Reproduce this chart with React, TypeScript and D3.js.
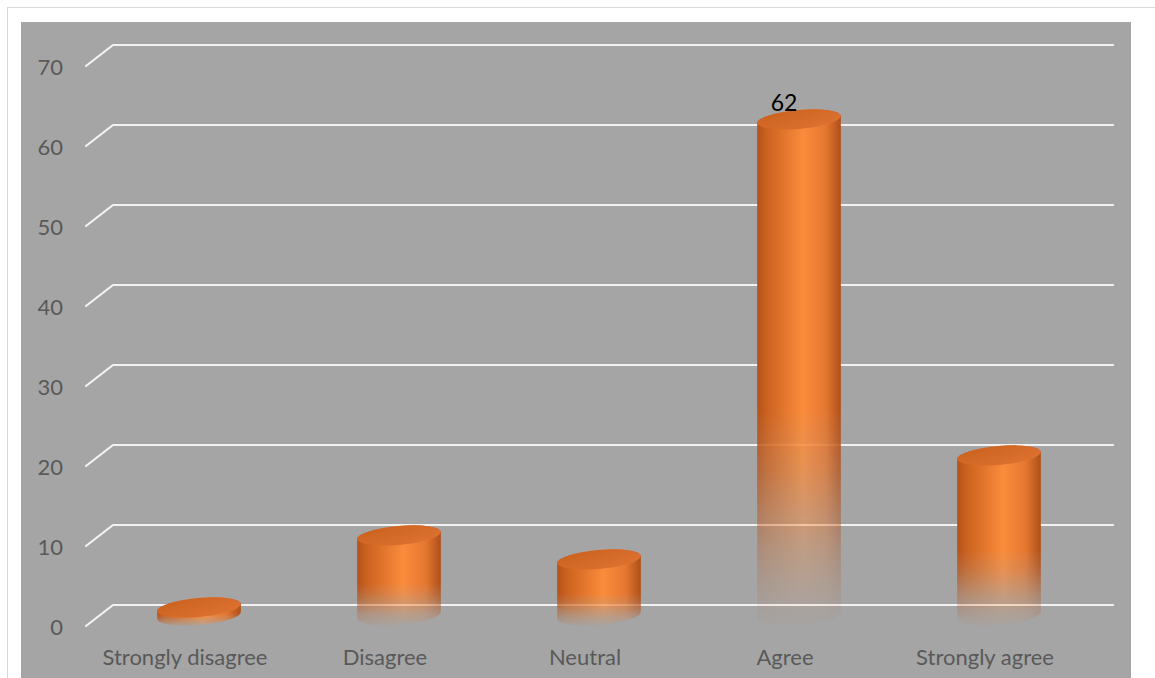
import React from "react";
import * as d3 from "d3";

const categories = ["Strongly disagree", "Disagree", "Neutral", "Agree", "Strongly agree"];
const values = [1, 10, 7, 62, 20];
const yTicks = [0, 10, 20, 30, 40, 50, 60, 70];
const labelledIndex = [3];

const W = 1155;
const H = 678;
const FONT = "Lato, 'Open Sans', sans-serif";

export default function App() {
  // 3D depth offset (back plane shifted right/up from front)
  const depthX = 28;
  const depthY = -21;

  const y = d3.scaleLinear().domain([0, 70]).range([605, 45]); // back plane
  const xFront = d3.scaleBand<string>().domain(categories).range([85, 1085]).padding(0);
  const gridRight = 1113;

  const rx = 42;
  const ry = 9.5;
  const rot = -5;
  const dxr = rx * Math.cos((rot * Math.PI) / 180);
  const dyr = rx * Math.sin((rot * Math.PI) / 180);

  const bars = categories.map((c, i) => {
    const cx = (xFront(c) as number) + xFront.bandwidth() / 2 + depthX / 2;
    const base = y(0) - depthY / 2;
    const top = y(values[i]) - depthY / 2;
    return { c, i, cx, base, top, v: values[i] };
  });

  return (
    <svg
      width={W}
      height={H}
      style={{ position: "absolute", left: 0, top: 0, display: "block" }}
    >
      <defs>
        <linearGradient id="body" x1="0" x2="1" y1="0" y2="0">
          <stop offset="0" stopColor="#b4521a" />
          <stop offset="0.12" stopColor="#cc621f" />
          <stop offset="0.55" stopColor="#fb8c3c" />
          <stop offset="0.82" stopColor="#e47731" />
          <stop offset="1" stopColor="#b04f18" />
        </linearGradient>
        <linearGradient id="topg" x1="0" x2="1" y1="0" y2="1">
          <stop offset="0" stopColor="#c9611f" />
          <stop offset="1" stopColor="#e07432" />
        </linearGradient>
        <linearGradient id="fade" x1="0" x2="0" y1="0" y2="1">
          <stop offset="0" stopColor="#fff" stopOpacity="1" />
          <stop offset="0.58" stopColor="#fff" stopOpacity="1" />
          <stop offset="0.7" stopColor="#fff" stopOpacity="0.75" />
          <stop offset="0.85" stopColor="#fff" stopOpacity="0.3" />
          <stop offset="0.96" stopColor="#fff" stopOpacity="0.06" />
          <stop offset="1" stopColor="#fff" stopOpacity="0.02" />
        </linearGradient>
        {bars.map((b) => (
          <mask id={`m${b.i}`} key={b.i} maskUnits="userSpaceOnUse">
            <rect
              x={b.cx - rx - 2}
              y={b.top - ry - 6}
              width={2 * rx + 4}
              height={b.base - b.top + 2 * ry + 10}
              fill="url(#fade)"
            />
          </mask>
        ))}
      </defs>

      <rect x={0} y={0} width={W} height={H} fill="#ffffff" />
      <line x1={7.5} y1={7} x2={7.5} y2={H} stroke="#d9d9d9" strokeWidth={1} />
      <line x1={7} y1={7.5} x2={W} y2={7.5} stroke="#d9d9d9" strokeWidth={1} />
      <rect x={21} y={22} width={1110} height={H - 22} fill="#a5a5a5" />

      {/* gridlines */}
      {yTicks.map((t) => (
        <path
          key={t}
          d={`M${85 + 1},${y(t) - depthY} L${85 + depthX},${y(t)} L${gridRight},${y(t)}`}
          fill="none"
          stroke="#f2f2f2"
          strokeWidth={2.2}
          strokeLinecap="round"
          strokeLinejoin="round"
        />
      ))}

      {/* y tick labels */}
      {yTicks.map((t) => (
        <text
          key={t}
          x={63}
          y={y(t) - depthY}
          textAnchor="end"
          dominantBaseline="central"
          fontFamily={FONT}
          fontSize={22}
          fill="#595959"
        >
          {t}
        </text>
      ))}

      {/* cylinders */}
      {bars.map((b) => {
        const body = `M${b.cx - dxr},${b.top - dyr} L${b.cx - dxr},${b.base - dyr} A${rx},${ry} ${rot} 0 0 ${b.cx + dxr},${b.base + dyr} L${b.cx + dxr},${b.top + dyr} A${rx},${ry} ${rot} 0 0 ${b.cx - dxr},${b.top - dyr} Z`;
        return (
          <g key={b.c}>
            <path d={body} fill="url(#body)" mask={`url(#m${b.i})`} />
            <ellipse
              cx={b.cx}
              cy={b.top}
              rx={rx}
              ry={ry}
              transform={`rotate(${rot},${b.cx},${b.top})`}
              fill="url(#topg)"
            />
          </g>
        );
      })}

      {/* data label */}
      {labelledIndex.map((i) => (
        <text
          key={i}
          x={bars[i].cx - 15}
          y={bars[i].top - 9}
          textAnchor="middle"
          fontFamily={FONT}
          fontSize={23}
          fill="#000000"
        >
          {values[i]}
        </text>
      ))}

      {/* category labels */}
      {categories.map((c) => (
        <text
          key={c}
          x={(xFront(c) as number) + xFront.bandwidth() / 2}
          y={665}
          textAnchor="middle"
          fontFamily={FONT}
          fontSize={22}
          fill="#595959"
        >
          {c}
        </text>
      ))}
    </svg>
  );
}
